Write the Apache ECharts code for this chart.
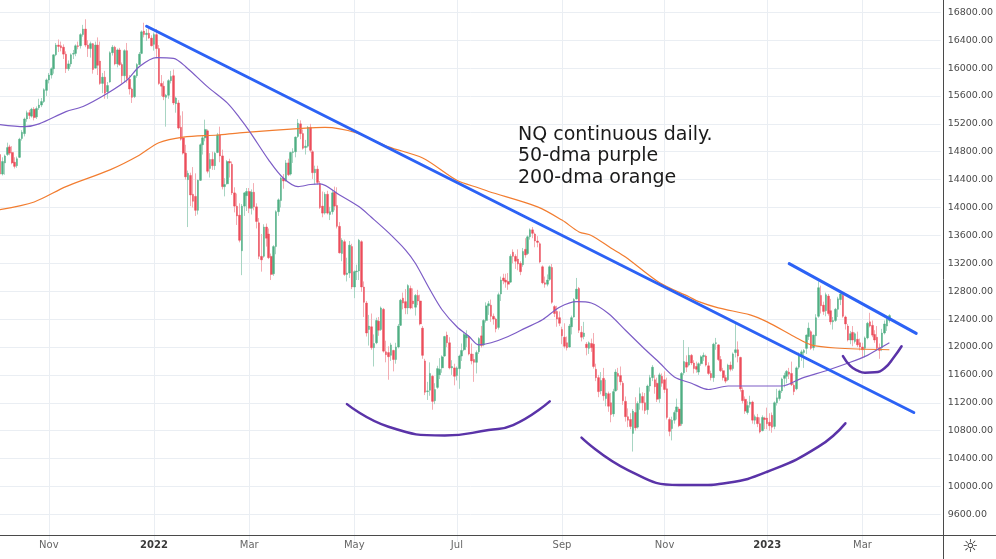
<!DOCTYPE html>
<html>
<head>
<meta charset="utf-8">
<script src="https://cdn.jsdelivr.net/npm/echarts@6/dist/echarts.min.js"></script>
<style>
html,body{margin:0;padding:0;background:#fff;}
#chart{width:996px;height:559px;}
</style>
</head>
<body>
<div id="chart"></div>
<script>
// ---- trading calendar (category axis) ----
const holidays = ['2021-11-25','2021-12-24','2022-01-17','2022-02-21','2022-04-15','2022-05-30','2022-06-20','2022-07-04','2022-09-05','2022-11-24','2022-12-26','2023-01-02','2023-01-16','2023-02-20','2023-04-07'];
const categories = [];
(function(){
  const d = new Date(Date.UTC(2021, 9, 4));
  while (categories.length < 386) {
    const wd = d.getUTCDay();
    const s = d.toISOString().slice(0, 10);
    if (wd !== 0 && wd !== 6 && holidays.indexOf(s) < 0) categories.push(s);
    d.setUTCDate(d.getUTCDate() + 1);
  }
})();

// ---- daily candles: [open, close, low, high] ----
const oct21 = [[14760,14480,14380,14800],[14480,14660,14460,14720],[14640,14740,14470,14760],[14760,14860,14740,14930],[14870,14780,14750,14900],[14790,14640,14620,14880],[14650,14590,14560,14720],[14600,14700,14570,14730],[14720,14980,14710,15000],[14990,15080,14960,15110],[15060,15270,15020,15290],[15270,15360,15230,15390],[15360,15320,15270,15400],[15310,15410,15290,15430],[15410,15290,15250,15440],[15300,15420,15270,15450],[15430,15470,15400,15560],[15470,15520,15440,15570],[15520,15690,15500,15710],[15680,15830,15600,15850]];
const nov21 = [[15830,15900,15780,15930],[15900,15990,15850,16010],[15990,16190,15920,16200],[16190,16330,16170,16360],[16330,16310,16230,16410],[16320,16290,16240,16380],[16300,16200,16130,16340],[16200,15990,15930,16240],[15990,16060,15960,16110],[16060,16190,16020,16210],[16200,16210,16130,16260],[16210,16320,16170,16340],[16320,16310,16270,16380],[16320,16480,16280,16500],[16480,16560,16450,16620],[16560,16330,16300,16700],[16330,16280,16160,16400],[16280,16350,16150,16380],[16350,15980,15920,16360],[16000,16330,15990,16380],[16330,16040,15900,16440]];
const dec21 = [[16100,15780,15760,16380],[15780,15870,15640,15930],[15870,15640,15560,15960],[15660,15750,15560,15800],[15800,16220,15790,16240],[16220,16300,16180,16330],[16300,16060,16040,16320],[16060,16260,16010,16280],[16260,16050,16030,16290],[16050,15890,15780,16080],[15890,16250,15800,16270],[16250,15850,15790,16360],[15840,15700,15620,15900],[15700,15580,15500,15720],[15590,15890,15570,15900],[15890,16050,15860,16070],[16050,16200,16040,16230],[16210,16520,16200,16540],[16530,16480,16440,16650],[16480,16500,16390,16560],[16500,16430,16420,16590],[16430,16320,16310,16470]];
const jan22 = [[16340,16480,16250,16510],[16480,16280,16140,16560],[16280,15780,15760,16330],[15780,15740,15600,15900],[15740,15590,15540,15810],[15580,15610,15160,15630],[15610,15820,15560,15840],[15820,15880,15780,15960],[15890,15500,15470,15980],[15490,15570,15360,15590],[15500,15140,15120,15540],[15150,14980,14960,15320],[15000,14780,14760,15380],[14780,14440,14400,14900],[14400,14490,13720,14530],[14460,14180,14020,14500],[14190,14090,14000,14580],[14160,13960,13880,14490],[13960,14390,13900,14400],[14390,14900,14380,14920]];
const feb22 = [[14900,15000,14760,15040],[15000,15120,14950,15260],[15100,14520,14490,15120],[14560,14690,14430,14780],[14690,14600,14540,14800],[14600,14780,14540,14800],[14790,15040,14780,15070],[15040,14740,14650,15160],[14740,14300,14260,14830],[14300,14330,14160,14420],[14340,14660,14330,14680],[14660,14640,14430,14700],[14620,14210,14180,14660],[14210,14020,13930,14290],[14020,13880,13750,14200],[13890,13530,13500,14060],[13380,14020,13030,14050],[14020,14210,13880,14220],[14170,14230,13950,14280]];
const mar22 = [[14230,13990,13920,14280],[13990,14220,13900,14260],[14220,14010,13960,14350],[14010,13800,13700,14060],[13780,13300,13260,13850],[13300,13250,13080,13620],[13300,13720,13280,13760],[13720,13560,13440,13770],[13620,13280,13260,13700],[13300,13040,12960,13340],[13050,13440,13020,13460],[13440,13940,13330,13960],[13940,14110,13880,14130],[14100,14420,14000,14440],[14420,14380,14270,14480],[14380,14640,14370,14680],[14640,14470,14450,14700],[14480,14790,14460,14800],[14790,14800,14640,14850],[14800,15010,14720,15020],[15020,15210,15000,15270],[15200,15060,14980,15250],[15060,14850,14830,15120]];
const apr22 = [[14860,14880,14760,14970],[14880,15150,14860,15170],[15150,14820,14790,15200],[14800,14500,14410,14820],[14500,14550,14330,14600],[14550,14360,14330,14600],[14340,14000,13980,14380],[14020,13920,13860,14230],[13920,14190,13900,14220],[14190,13920,13900,14240],[13900,13940,13820,14010],[13940,14210,13900,14240],[14220,14020,13960,14300],[14030,13730,13700,14290],[13730,13350,13340,13790],[13340,13530,13230,13560],[13510,13040,13020,13540],[13040,13060,12940,13280],[13060,13460,12990,13520],[13440,12860,12830,13480]];
const may22 = [[12860,13080,12700,13100],[13080,13090,12960,13180],[13090,13530,12960,13550],[13510,12860,12790,13530],[12860,12640,12430,12940],[12630,12200,12150,12660],[12250,12300,12020,12460],[12290,11990,11960,12480],[11990,12050,11720,12180],[12060,12380,12040,12420],[12370,12240,12160,12430],[12250,12560,12230,12580],[12540,11940,11920,12560],[11930,11890,11780,12090],[11920,11860,11530,12010],[11880,12030,11800,12060],[11950,11820,11650,11960],[11820,12000,11760,12060],[12000,12300,11980,12330],[12310,12670,12300,12690],[12700,12630,12540,12780]];
const jun22 = [[12650,12560,12470,12830],[12560,12880,12470,12900],[12840,12560,12540,12880],[12660,12620,12550,12840],[12570,12740,12450,12760],[12740,12660,12600,12820],[12660,12330,12310,12750],[12270,11880,11830,12300],[11800,11350,11310,11830],[11360,11370,11240,11500],[11380,11620,11300,11780],[11580,11220,11100,11600],[11230,11390,11180,11480],[11420,11690,11400,11730],[11600,11680,11540,11840],[11700,11860,11630,11880],[11870,12150,11860,12160],[12170,12060,12000,12220],[12060,11700,11680,12140],[11700,11720,11600,11810],[11700,11580,11450,11760]];
const jul22 = [[11590,11700,11520,11720],[11690,11870,11400,11890],[11870,11950,11800,12050],[11960,12180,11940,12210],[12130,12170,12000,12240],[12150,11900,11880,12170],[11900,11800,11750,12050],[11820,11780,11500,11900],[11780,11920,11620,11950],[11930,12120,11900,12140],[12160,12020,11990,12300],[12030,12380,12010,12400],[12380,12590,12350,12640],[12590,12620,12460,12660],[12600,12440,12360,12680],[12440,12400,12320,12480],[12400,12260,12210,12420],[12280,12750,12250,12780],[12760,12960,12660,13010],[12990,12950,12900,13050]];
const aug22 = [[12960,12930,12850,13050],[12940,12900,12820,13060],[12930,13300,12920,13330],[13360,13300,13200,13400],[13300,13230,13120,13330],[13260,13190,13100,13400],[13200,13080,13030,13230],[13180,13370,13150,13420],[13400,13320,13280,13560],[13340,13580,13320,13600],[13580,13680,13540,13700],[13680,13630,13560,13720],[13620,13520,13430,13640],[13520,13500,13430,13590],[13480,13220,13200,13500],[13150,12920,12900,13170],[12920,12900,12850,13010],[12900,12960,12870,13040],[12970,13150,12950,13170],[13140,12640,12620,13190],[12580,12480,12430,12600],[12510,12400,12290,12590],[12420,12340,12300,12510]];
const sep22 = [[12250,12160,12040,12290],[12140,12010,11980,12340],[12060,11990,11950,12150],[12000,12300,11990,12330],[12290,12420,12180,12450],[12430,12680,12420,12700],[12690,12830,12680,12990],[12840,12240,12200,12860],[12210,12140,12080,12300],[12150,12200,12110,12360],[12040,11990,11880,12070],[11980,12060,11900,12080],[12050,11990,11930,12120],[12040,11720,11690,12200],[11680,11560,11510,11760],[11560,11360,11280,11600],[11370,11520,11320,11640],[11550,11300,11230,11700],[11260,11340,11150,11530],[11330,11150,11070,11360],[11200,11030,10920,11340]];
const oct22 = [[11040,11360,11000,11400],[11370,11640,11360,11680],[11620,11580,11380,11700],[11590,11500,11450,11720],[11480,11230,11170,11510],[11220,11000,10930,11290],[11000,10950,10850,11120],[10960,10860,10820,11050],[10760,11080,10500,11110],[11060,10840,10800,11280],[10850,11190,10830,11220],[11200,11330,11100,11420],[11290,11200,11090,11350],[11200,11090,11040,11340],[11100,11440,11030,11460],[11440,11560,11360,11600],[11560,11710,11510,11740],[11530,11430,11330,11600],[11480,11250,11210,11560],[11260,11600,11200,11630],[11580,11480,11430,11620]];
const nov22 = [[11530,11390,11340,11650],[11400,10990,10960,11560],[10960,10790,10720,10990],[10830,10950,10660,11000],[10950,11060,10900,11090],[11070,11140,10960,11260],[11110,10870,10850,11140],[10900,11620,10870,11640],[11630,11790,11600,12100],[11780,11710,11640,11880],[11740,11880,11720,12000],[11880,11770,11740,11900],[11770,11690,11620,11810],[11720,11680,11630,11790],[11640,11760,11600,11780],[11760,11860,11730,11880],[11860,11880,11800,11920],[11870,11740,11720,11890],[11730,11620,11600,11780],[11620,11560,11520,11660],[11560,12040,11500,12060]];
const dec22 = [[12050,12060,11960,12130],[12030,11820,11800,12040],[11820,11660,11640,11870],[11660,11560,11520,11700],[11560,11510,11480,11600],[11530,11740,11510,11760],[11740,11680,11650,11790],[11690,11900,11660,11920],[11920,11960,11850,12340],[11960,11870,11780,12080],[11850,11400,11360,11860],[11380,11230,11190,11420],[11250,11080,11040,11290],[11060,11160,11030,11220],[11180,11210,11130,11300],[11210,10950,10900,11230],[10950,11000,10890,11030],[10990,10900,10850,11040],[10900,10780,10760,10990],[10800,10990,10790,11020],[10980,10960,10820,11000]];
const jan23 = [[10980,10900,10820,11130],[10920,10870,10800,11050],[11020,10850,10770,11060],[10860,11200,10820,11220],[11200,11270,11160,11400],[11260,11370,11230,11390],[11370,11540,11340,11560],[11550,11590,11420,11630],[11580,11650,11480,11670],[11640,11610,11540,11700],[11620,11460,11440,11790],[11450,11360,11310,11480],[11400,11700,11380,11720],[11710,11880,11680,11920],[11880,11930,11800,11960],[11920,11950,11700,11970],[11980,12170,11900,12180],[12150,12270,12100,12350],[12220,11980,11960,12240],[11990,12170,11950,12180]];
const feb23 = [[12160,12420,12030,12470],[12440,12850,12420,12940],[12740,12590,12480,12880],[12600,12510,12460,12650],[12520,12750,12440,12780],[12730,12480,12450,12760],[12520,12360,12320,12690],[12360,12380,12250,12430],[12380,12540,12360,12560],[12540,12690,12430,12720],[12680,12760,12600,12790],[12740,12440,12420,12770],[12430,12330,12250,12450],[12300,12100,12080,12330],[12100,12190,12040,12230],[12210,12100,12010,12300],[12080,12190,12050,12210],[12110,12030,12000,12220],[12060,12000,11950,12120]];
const mar23 = [[12000,11960,11840,12060],[11980,12130,11850,12150],[12130,12340,12110,12360],[12360,12300,12280,12490],[12310,12170,12140,12380],[12180,12100,12060,12240],[12140,11980,11960,12300],[11990,11950,11830,12050],[11990,12200,11940,12260],[12200,12330,12180,12380],[12300,12400,12230,12420],[12380,12450,12350,12470]];

// ---- moving averages (sampled: bar index, value) ----
const ma50Idx = [0,10,16,27,34,44,52,57,64,71,76,85,93,98,102,110,116,122,127,131,139,147,152,159,166,170,176,181,187,192,196,201,208,215,222,229,236,242,249,256,263,270,276,283,290,298,306,314,320,328,339,348,355,359,364];
const ma50Val = [15190,15160,15200,15375,15450,15640,15830,16020,16150,16140,16020,15730,15500,15290,15100,14680,14420,14300,14330,14340,14180,14010,13860,13640,13390,13200,12820,12530,12290,12150,12030,12060,12150,12270,12390,12570,12650,12630,12480,12240,12000,11770,11570,11480,11390,11440,11440,11440,11440,11550,11670,11780,11880,11960,12060];
const ma200Idx = [0,14,27,45,57,65,75,89,98,125,133,146,159,173,187,196,200,220,230,237,242,250,256,270,282,286,294,307,314,325,332,342,364];
const ma200Val = [13970,14080,14300,14540,14750,14930,15010,15040,15070,15140,15150,15070,14870,14710,14390,14280,14230,14010,13820,13650,13600,13420,13290,12920,12720,12650,12560,12460,12360,12150,12030,11985,11960];

// ---- hand-drawn trend lines and arcs (bar index, value) ----
const trendA = [[60,16600],[374,11060]];
const trendB = [[323,13195],[375,12195]];
const arc1 = [[142,11180],[159,10855],[182,10730],[200,10810],[210,10880],[225,11220]];
const arc2 = [[238,10700],[257,10235],[278,10020],[286,10020],[298,10053],[314,10210],[335,10570],[346,10905]];
const arc3 = [[345,11870],[348,11730],[351,11660],[354,11630],[358,11636],[362,11694],[366,11860],[369,12010]];

const noteLines = ['NQ continuous daily.', '50-dma purple', '200-dma orange'];
const yScale = {min: 9200, max: 16976.4, step: 400};

const ohlc = [].concat(oct21, nov21, dec21, jan22, feb22, mar22, apr22, may22, jun22, jul22, aug22, sep22, oct22, nov22, dec22, jan23, feb23, mar23);
const bodies = ohlc.map(d => [d[0], d[1], Math.min(d[0], d[1]), Math.max(d[0], d[1])]);

// first trading day of odd months -> label/gridline
const labelIdx = new Set();
for (let i = 1; i < categories.length; i++) {
  const m = parseInt(categories[i].slice(5, 7), 10);
  const pm = parseInt(categories[i - 1].slice(5, 7), 10);
  if (m !== pm && m % 2 === 1) labelIdx.add(i);
}
const monthNames = {3: 'Mar', 5: 'May', 7: 'Jul', 9: 'Sep', 11: 'Nov'};

const chart = echarts.init(document.getElementById('chart'), null, {renderer: 'canvas'});
const FONT = 'DejaVu Sans';
const UP = '#4fae83', DOWN = '#ec4d5a';
const option = {
  animation: false,
  backgroundColor: '#ffffff',
  grid: {left: 0, right: 53, top: 0, bottom: 16.8, containLabel: false},
  xAxis: {
    type: 'category',
    data: categories,
    boundaryGap: false,
    axisLine: {show: false},
    axisTick: {show: false},
    axisLabel: {
      interval: (i) => labelIdx.has(i),
      margin: -1.5,
      formatter: (v) => {
        const m = parseInt(v.slice(5, 7), 10);
        return m === 1 ? '{y|' + v.slice(0, 4) + '}' : '{m|' + monthNames[m] + '}';
      },
      rich: {
        y: {fontFamily: FONT, fontSize: 10, color: '#3a3a3a', fontWeight: 'bold'},
        m: {fontFamily: FONT, fontSize: 10, color: '#666666'}
      }
    },
    splitLine: {show: true, interval: (i) => labelIdx.has(i), lineStyle: {color: '#eaeef3', width: 1}}
  },
  yAxis: {
    type: 'value',
    position: 'right',
    min: yScale.min, max: yScale.max, interval: yScale.step,
    axisLine: {show: false},
    axisTick: {show: false},
    axisLabel: {
      margin: 7, fontFamily: FONT, fontSize: 9.5, color: '#4a4a4a',
      showMinLabel: false, showMaxLabel: false,
      formatter: (v) => v.toFixed(2)
    },
    splitLine: {show: true, showMinLine: false, showMaxLine: false, lineStyle: {color: '#eaeef3', width: 1}}
  },
  series: [
    {
      type: 'candlestick', name: 'wicks', data: ohlc, barWidth: 1,
      itemStyle: {color: '#a8d5c3', color0: '#f4adb3', borderColor: '#a8d5c3', borderColor0: '#f4adb3', borderWidth: 1},
      z: 2
    },
    {
      type: 'candlestick', name: 'bodies', data: bodies, barWidth: 2.1,
      itemStyle: {color: UP, color0: DOWN, borderColor: UP, borderColor0: DOWN, borderWidth: 0.4},
      z: 3
    },
    {type: 'line', name: '200-dma', data: ma200Idx.map((x, i) => [x, ma200Val[i]]), smooth: 0.3, symbol: 'none',
     lineStyle: {color: '#f27d30', width: 1.2}, z: 4},
    {type: 'line', name: '50-dma', data: ma50Idx.map((x, i) => [x, ma50Val[i]]), smooth: 0.3, symbol: 'none',
     lineStyle: {color: '#7c5cc6', width: 1.2}, z: 4},
    {type: 'line', data: trendA, symbol: 'none', lineStyle: {color: '#2c62f5', width: 3, cap: 'round'}, z: 5},
    {type: 'line', data: trendB, symbol: 'none', lineStyle: {color: '#2c62f5', width: 3, cap: 'round'}, z: 5},
    {type: 'line', data: arc1, smooth: 0.5, symbol: 'none', lineStyle: {color: '#5a33a8', width: 2.5, cap: 'round'}, z: 5},
    {type: 'line', data: arc2, smooth: 0.5, symbol: 'none', lineStyle: {color: '#5a33a8', width: 2.5, cap: 'round'}, z: 5},
    {type: 'line', data: arc3, smooth: 0.5, symbol: 'none', lineStyle: {color: '#5a33a8', width: 2.5, cap: 'round'}, z: 5}
  ],
  graphic: [
    {type: 'line', z: 20, shape: {x1: 943.5, y1: 0, x2: 943.5, y2: 559}, style: {stroke: '#4a4a4a', lineWidth: 1}},
    {type: 'line', z: 20, shape: {x1: 0, y1: 535.5, x2: 996, y2: 535.5}, style: {stroke: '#4a4a4a', lineWidth: 1}},
    {type: 'text', z: 20, x: 518, y: 135, style: {text: noteLines[0], fill: '#1a1a1a', font: '19px "DejaVu Sans"', verticalAlign: 'middle'}},
    {type: 'text', z: 20, x: 518, y: 156.5, style: {text: noteLines[1], fill: '#1a1a1a', font: '19px "DejaVu Sans"', verticalAlign: 'middle'}},
    {type: 'text', z: 20, x: 518, y: 178, style: {text: noteLines[2], fill: '#1a1a1a', font: '19px "DejaVu Sans"', verticalAlign: 'middle'}},
    {type: 'text', z: 20, x: 970, y: 547, style: {text: '\u263C', fill: '#333333', font: '18px "DejaVu Sans"', align: 'center', verticalAlign: 'middle'}}
  ]
};
chart.setOption(option);
</script>
</body>
</html>
